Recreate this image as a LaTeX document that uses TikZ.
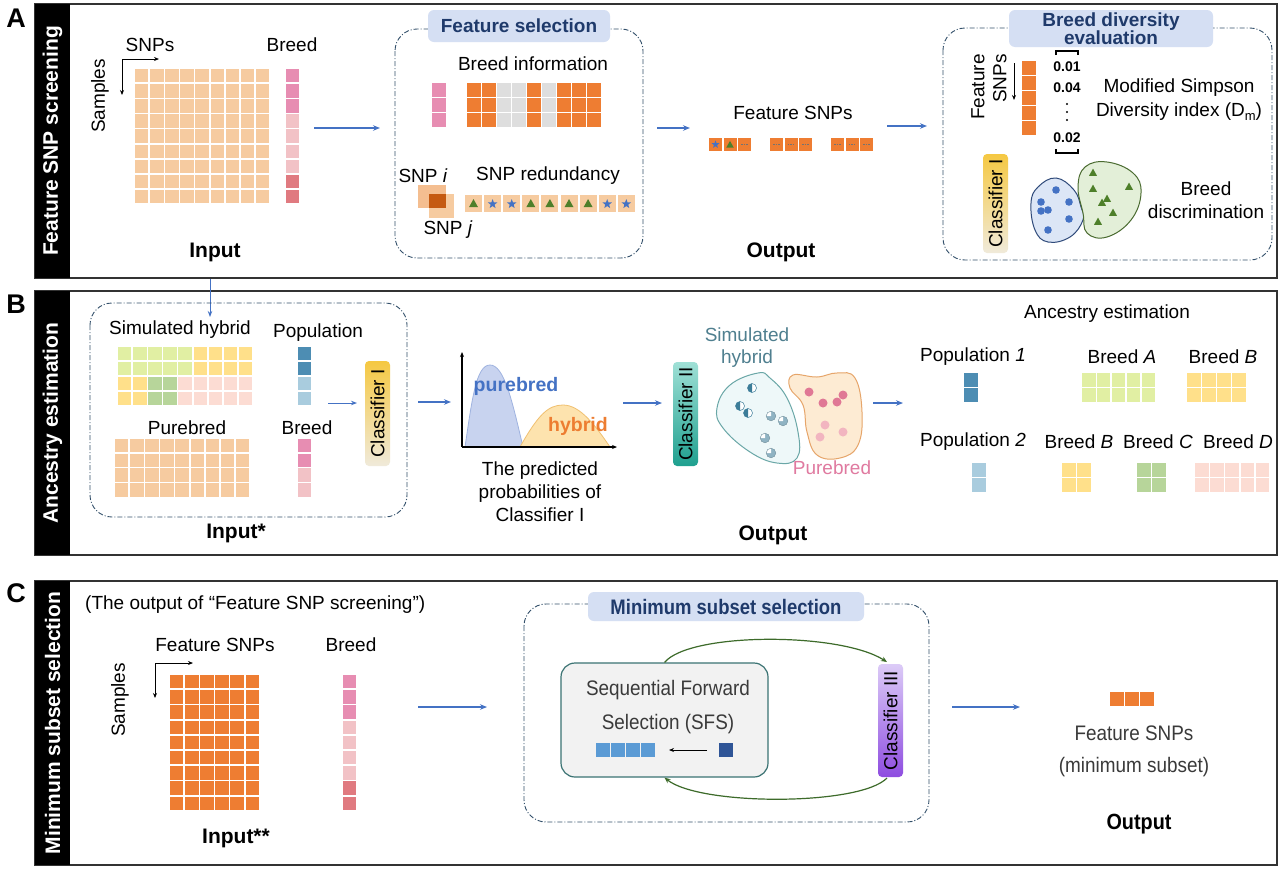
\documentclass[tikz,border=0pt]{standalone}
\usepackage{fontspec}
\setmainfont{Liberation Sans}
\usetikzlibrary{arrows.meta}

\definecolor{framecol}{HTML}{333333}
\definecolor{peach}{HTML}{F6CBA0}
\definecolor{snpipeach}{HTML}{F4BE90}
\definecolor{snpor}{HTML}{EE7D32}
\definecolor{pinkA}{HTML}{E78DB2}
\definecolor{pinkL}{HTML}{F2C2C6}
\definecolor{pinkD}{HTML}{E07A80}
\definecolor{greyc}{HTML}{DEDEDE}
\definecolor{limec}{HTML}{E1EFA3}
\definecolor{yelc}{HTML}{FFE08A}
\definecolor{grnc}{HTML}{B7D59A}
\definecolor{palepink}{HTML}{FCDCD3}
\definecolor{popD}{HTML}{4D8DB3}
\definecolor{popL}{HTML}{A9CCDE}
\definecolor{arrblue}{HTML}{4472C4}
\definecolor{titlefill}{HTML}{D5DFF3}
\definecolor{titletext}{HTML}{1F3A6B}
\definecolor{boxline}{HTML}{33506B}
\definecolor{trigreen}{HTML}{4E7F2A}
\definecolor{starblue}{HTML}{4472C4}
\definecolor{snpdark}{HTML}{C55A11}
\definecolor{bblobfill}{HTML}{DCE6F6}
\definecolor{bblobline}{HTML}{2F4A7A}
\definecolor{gblobfill}{HTML}{E3EFD8}
\definecolor{gblobline}{HTML}{4A6B30}
\definecolor{hblobfill}{HTML}{EEF8F9}
\definecolor{hblobline}{HTML}{6AA7A7}
\definecolor{hdark}{HTML}{3C7D99}
\definecolor{hlight}{HTML}{8FB3C3}
\definecolor{pblobfill}{HTML}{FDEBD3}
\definecolor{pblobline}{HTML}{E6A56A}
\definecolor{pdotD}{HTML}{E07895}
\definecolor{pdotL}{HTML}{F2B5C0}
\definecolor{curveB}{HTML}{C8D3EF}
\definecolor{curveBl}{HTML}{9FB3E0}
\definecolor{curveO}{HTML}{FDE3AE}
\definecolor{curveOl}{HTML}{F0C070}
\definecolor{txtblue}{HTML}{4472C4}
\definecolor{txtorange}{HTML}{ED7D31}
\definecolor{hybtxt}{HTML}{4F7F8F}
\definecolor{puretxt}{HTML}{E07AA0}
\definecolor{sfsfill}{HTML}{F2F2F2}
\definecolor{sfsline}{HTML}{3B7373}
\definecolor{sfsblue}{HTML}{5B9BD5}
\definecolor{sfsdark}{HTML}{2F5597}
\definecolor{greentip}{HTML}{3D6B2A}
\definecolor{clsAtop}{HTML}{F5C842}
\definecolor{clsAbot}{HTML}{F0EADA}
\definecolor{clsIItop}{HTML}{9FE0D6}
\definecolor{clsIIbot}{HTML}{1FA08F}
\definecolor{clsIIItop}{HTML}{DCCBF7}
\definecolor{clsIIIbot}{HTML}{8E4DE0}
\definecolor{greytxt}{HTML}{3A3A3A}

\newcommand{\onecell}[4]{\fill[#4] (#1,#2) rectangle ++(#3,#3);}
\newcommand{\cellblock}[8]{\foreach \ci in {1,...,#3}{\foreach \cj in {1,...,#4}{\fill[#8] ({#1+(\ci-1)*#5},{#2+(\cj-1)*#6}) rectangle ++(#7,#7);}}}
\newcommand{\mystar}[3]{\fill[starblue,shift={(#1,#2)},scale=#3] (0,-5.5)--(-1.35,-1.86)--(-5.23,-1.7)--(-2.19,0.71)--(-3.23,4.45)--(0,2.3)--(3.23,4.45)--(2.19,0.71)--(5.23,-1.7)--(1.35,-1.86)--cycle;}
\newcommand{\mytri}[4]{\fill[#4,shift={(#1,#2)},scale=#3] (0,-5.5)--(5,3.5)--(-5,3.5)--cycle;}
\newcommand{\dmark}[2]{\draw[line width=0.6pt,black!55,dash pattern=on 1.5pt off 1pt] ({#1-3.5},#2) -- ({#1+3.5},#2);}
\newcommand{\halfdot}[2]{\fill[white] (#1,#2) circle (4.5); \fill[hdark] (#1,#2) -- ++(90:4.5) arc (90:270:4.5) -- cycle; \draw[hdark,line width=0.5pt] (#1,#2) circle (4.5);}
\newcommand{\qdot}[2]{\fill[hlight] (#1,#2) circle (4.8); \fill[white] (#1,#2) -- ++(180:4.8) arc (180:270:4.8) -- cycle; \draw[hlight!80!black,line width=0.4pt] (#1,#2) circle (4.8);}

\begin{document}
\begin{tikzpicture}[x=1pt,y=-1pt,
 lbl/.style={font=\fontsize{19}{22}\selectfont, inner sep=0pt, align=center},
 nlbl/.style={font=\fontsize{21}{24}\selectfont, inner sep=0pt, align=center, xscale=0.9},
 blbl/.style={font=\fontsize{21}{24}\selectfont\bfseries, inner sep=0pt},
 barlbl/.style={font=\fontsize{21}{24}\selectfont\bfseries, text=white, rotate=90, inner sep=0pt},
 letter/.style={font=\fontsize{27}{27}\selectfont\bfseries, inner sep=0pt},
 panelframe/.style={draw=framecol, line width=1.8pt},
 arr/.style={draw=arrblue, line width=1.5pt, -{Stealth[length=7pt,width=5.5pt]}},
 thinarr/.style={draw=arrblue, line width=1pt, -{Stealth[length=6pt,width=4.5pt]}},
 axarr/.style={draw=black, line width=1pt, -{Stealth[length=5pt,width=4pt]}},
 ddbox/.style={draw=boxline, line width=0.9pt, rounded corners=22pt, dash pattern=on 5pt off 2pt on 1pt off 2pt},
 ttl/.style={fill=titlefill, rounded corners=6pt, text=titletext, font=\fontsize{19}{18}\selectfont\bfseries, inner sep=0pt, align=center},
 val/.style={font=\fontsize{14}{16}\selectfont\bfseries, inner sep=0pt},
 greenloop/.style={draw=greentip, line width=1.2pt, -{Stealth[length=6pt,width=5pt]}},
]
\useasboundingbox (0,0) rectangle (1280,868);
\fill[white] (0,0) rectangle (1280,868);

% ================= Panel A =================
\draw[panelframe] (35,4) rectangle (1277,278);
\fill[black] (35,4) rectangle (70,278);
\node[barlbl] (barA) at (52.5,141) {Feature SNP screening};
\node[letter] (letA) at (16,18) {A};

\node[lbl] (snpsA) at (150,45) {SNPs};
\node[lbl] (breedA) at (292,45) {Breed};
\node[lbl,rotate=90] (sampA) at (100,96) {Samples};
\coordinate (axA) at (122,59);
\draw[axarr] (axA) -- ++(37,0);
\draw[axarr] (axA) -- ++(0,36);
\cellblock{135}{69}{9}{9}{15.1}{15.1}{13.4}{peach}
\foreach \r/\cc in {0/pinkA,1/pinkA,2/pinkA,3/pinkL,4/pinkL,5/pinkL,6/pinkL,7/pinkD,8/pinkD}{\onecell{286}{69+\r*15.1}{13.4}{\cc}}
\node[blbl] (inA) at (215,252) {Input};
\coordinate (a1s) at (314,128); \coordinate (a1e) at (380,128);
\draw[arr] (a1s) -- (a1e);

% Feature selection
\draw[ddbox] (395,29) rectangle (643,258);
\node[ttl, minimum width=182pt, minimum height=32pt] (fselT) at (519,26) {Feature selection};
\node[lbl] (binfo) at (533,64) {Breed information};
\foreach \r in {0,1,2}{\onecell{432}{83+\r*15}{13.5}{pinkA}}
\foreach \ci/\cc in {0/snpor,1/snpor,2/greyc,3/greyc,4/snpor,5/greyc,6/snpor,7/snpor,8/snpor}{\foreach \r in {0,1,2}{\onecell{467+\ci*15}{83+\r*15}{13.5}{\cc}}}
\node[lbl] (snpi) at (423,176) {SNP \textit{i}};
\node[lbl] (snpr) at (548,176) {SNP redundancy};
\fill[snpipeach] (418,185) rectangle (446,208);
\fill[peach] (429,194) rectangle (454,218);
\fill[snpdark] (429,194) rectangle (446,208);
\node[lbl] (snpj) at (448,230) {SNP \textit{j}};
\foreach \k in {0,...,8}{\fill[peach] (465+\k*19.1,195) rectangle ++(17,17);}
\foreach \k in {0,3,4,5,6}{\mytri{473.5+\k*19.1}{204}{0.9}{trigreen}}
\foreach \k in {1,2,7,8}{\mystar{473.5+\k*19.1}{204}{0.9}}
\coordinate (a2s) at (657,128); \coordinate (a2e) at (690,128);
\draw[arr] (a2s) -- (a2e);

% Feature SNPs output
\node[lbl] (fsnpA) at (793,113) {Feature SNPs};
\foreach \g in {709,770,831}{\foreach \k in {0,1,2}{\onecell{\g+\k*14.5}{138}{13}{snpor}}}
\mystar{715.5}{144.5}{0.75}
\mytri{730}{145}{0.75}{trigreen}
\dmark{744.5}{144.5}
\foreach \g in {770,831}{\foreach \k in {0,1,2}{\dmark{\g+6.5+\k*14.5}{144.5}}}
\node[blbl] (outA) at (781,252) {Output};
\coordinate (a3s) at (887,126); \coordinate (a3e) at (927,126);
\draw[arr] (a3s) -- (a3e);

% Breed diversity evaluation
\draw[ddbox] (943,28) rectangle (1272,260);
\node[ttl, minimum width=204pt, minimum height=37pt] (bdT) at (1111,28.5) {Breed diversity\\evaluation};
\node[lbl, rotate=90, align=right] (fsv) at (989,87) {Feature\\SNPs};
\coordinate (fva) at (1014,63);
\draw[axarr] (fva) -- ++(0,37);
\foreach \r in {0,...,4}{\onecell{1022}{61+\r*15}{13.5}{snpor}}
\draw[line width=1.5pt] (1056,55) -- (1056,51) -- (1078,51) -- (1078,55);
\draw[line width=1.5pt] (1056,149) -- (1056,153) -- (1078,153) -- (1078,149);
\node[val] (v1) at (1067,67) {0.01};
\node[val] (v2) at (1067,88) {0.04};
\node[val] (v3) at (1067,138) {0.02};
\foreach \yy in {104,112,120}{\fill (1067,\yy) circle (1.1);}
\node[lbl, font=\fontsize{19}{24}\selectfont] (msdi) at (1179,100) {Modified Simpson\\Diversity index (D\raisebox{-0.35ex}{\fontsize{13}{13}\selectfont m})};
\shade[top color=clsAtop, bottom color=clsAbot, rounded corners=4pt] (983,154) rectangle (1008,253);
\node[lbl,rotate=90] (clsA) at (995.5,203.5) {Classifier I};
\draw[fill=bblobfill, draw=bblobline, line width=1pt] plot[smooth cycle, tension=0.7] coordinates {(1056,178) (1074,190) (1081,207) (1083,220) (1070,237) (1048,242) (1035,230) (1031,203) (1038,187)};
\draw[fill=gblobfill, draw=gblobline, line width=1pt] plot[smooth cycle, tension=0.7] coordinates {(1078,187) (1085,167) (1107,162) (1133,173) (1141,193) (1131,220) (1107,237) (1087,233) (1083,213)};
\foreach \p in {(1056,190),(1041,202),(1069,202),(1041,211),(1048,210),(1069,219),(1048,230)}{\fill[starblue] \p circle (3.8);}
\foreach \xx/\yy in {1093/173,1093/189,1129/187,1107/199,1102/203,1113/213,1098/222}{\mytri{\xx}{\yy}{0.8}{trigreen}}
\node[lbl, font=\fontsize{19}{23}\selectfont] (bdisc) at (1206,200) {Breed\\discrimination};

% ================= Panel B =================
\draw[panelframe] (35,291) rectangle (1277,555);
\fill[black] (35,291) rectangle (70,555);
\node[barlbl] (barB) at (52.5,423) {Ancestry estimation};
\node[letter] (letB) at (16,304) {B};
\coordinate (dA) at (210,279); \coordinate (dB) at (210,317);
\draw[thinarr] (dA) -- (dB);

\draw[ddbox] (90,303) rectangle (407,517);
\node[lbl] (simh) at (180,330) {Simulated hybrid};
\node[lbl] (popl) at (318,333) {Population};
\foreach \ci/\cc in {0/limec,1/limec,2/limec,3/limec,4/limec,5/yelc,6/yelc,7/yelc,8/yelc}{\foreach \r in {0,1}{\onecell{118+\ci*15.1}{347+\r*15}{13.4}{\cc}}}
\foreach \ci/\cc in {0/yelc,1/yelc,2/grnc,3/grnc,4/palepink,5/palepink,6/palepink,7/palepink,8/palepink}{\foreach \r in {2,3}{\onecell{118+\ci*15.1}{347+\r*15}{13.4}{\cc}}}
\foreach \r/\cc in {0/popD,1/popD,2/popL,3/popL}{\onecell{298}{347+\r*15}{13.4}{\cc}}
\node[lbl] (pureb) at (187,428) {Purebred};
\node[lbl] (breedB) at (307,428) {Breed};
\cellblock{115}{439}{9}{4}{15.1}{14.7}{13.4}{peach}
\foreach \r/\cc in {0/pinkA,1/pinkA,2/pinkL,3/pinkL}{\onecell{298}{439+\r*14.7}{13.4}{\cc}}
\coordinate (b1s) at (328,403); \coordinate (b1e) at (357,403);
\draw[thinarr] (b1s) -- (b1e);
\shade[top color=clsAtop, bottom color=clsAbot, rounded corners=4pt] (365,361) rectangle (390,466);
\node[lbl,rotate=90] (clsB) at (377.5,413.5) {Classifier I};
\node[blbl] (inB) at (236,533) {Input*};
\coordinate (b2s) at (418,402); \coordinate (b2e) at (451,402);
\draw[arr] (b2s) -- (b2e);

% chart
\coordinate (org) at (462,447);
\coordinate (yax) at (462,352);
\coordinate (xax) at (617,447);
\draw[fill=curveB, draw=curveBl, line width=0.8pt] (465,447) .. controls (472,400) and (476,365) .. (490,365) .. controls (504,365) and (512,400) .. (523,447) -- cycle;
\draw[fill=curveO, draw=curveOl, line width=0.8pt] (520,447) .. controls (538,415) and (548,405) .. (563,405) .. controls (580,405) and (595,425) .. (610,447) -- cycle;
\draw[axarr, line width=1.5pt] (org) -- (yax);
\draw[axarr, line width=1.5pt] (org) -- (xax);
\node[font=\fontsize{19.5}{22}\selectfont\bfseries, text=txtblue, inner sep=0pt] (pbl) at (516,386) {purebred};
\node[font=\fontsize{19.5}{22}\selectfont\bfseries, text=txtorange, inner sep=0pt] (hbl) at (578,426) {hybrid};
\node[lbl, font=\fontsize{19}{23}\selectfont] (pred) at (540,492) {The predicted\\probabilities of\\Classifier I};
\coordinate (b3s) at (623,403); \coordinate (b3e) at (662,403);
\draw[arr] (b3s) -- (b3e);
\shade[top color=clsIItop, bottom color=clsIIbot, rounded corners=4pt] (673,362) rectangle (698,466);
\node[lbl,rotate=90] (clsII) at (685.5,414) {Classifier II};

\draw[fill=hblobfill, draw=hblobline, line width=1pt] plot[smooth cycle, tension=0.7] coordinates {(758,373) (730,385) (717,408) (723,428) (750,452) (777,463) (797,458) (798,432) (787,398) (770,378)};
\draw[fill=pblobfill, draw=pblobline, line width=1pt] plot[smooth cycle, tension=0.7] coordinates {(793,375) (817,377) (837,373) (855,378) (862,412) (858,445) (840,458) (817,455) (807,432) (803,405) (790,388)};
\halfdot{752}{388}
\halfdot{740}{406}
\halfdot{748}{413}
\qdot{771}{416}
\qdot{783}{421}
\qdot{765}{438}
\qdot{771}{453}
\foreach \p in {(809,392),(823,403),(837,402),(843,395)}{\fill[pdotD] \p circle (4.5);}
\foreach \p in {(825,425),(820,437),(843,432)}{\fill[pdotL] \p circle (4.5);}
\node[lbl, text=hybtxt] (simhl) at (747,348) {Simulated\\hybrid};
\node[lbl, text=puretxt] (purel) at (832,468) {Purebred};
\node[blbl] (outB) at (773,535) {Output};
\coordinate (b4s) at (873,403); \coordinate (b4e) at (903,403);
\draw[arr] (b4s) -- (b4e);

% ancestry estimation
\node[lbl] (anc) at (1107,314) {Ancestry estimation};
\node[lbl] (pop1) at (973,357) {Population \textit{1}};
\node[lbl] (brA) at (1122,357) {Breed \textit{A}};
\node[lbl] (brB1) at (1223,357) {Breed \textit{B}};
\node[lbl] (pop2) at (973,442) {Population \textit{2}};
\node[lbl] (brB2) at (1079,442) {Breed \textit{B}};
\node[lbl] (brC) at (1158,442) {Breed \textit{C}};
\node[lbl] (brD) at (1238,442) {Breed \textit{D}};
\cellblock{964}{373}{1}{2}{15}{15}{13.5}{popD}
\cellblock{1082}{373}{5}{2}{14.9}{15}{13.5}{limec}
\cellblock{1187}{373}{4}{2}{15}{15}{13.5}{yelc}
\cellblock{972}{463}{1}{2}{15}{15}{13.5}{popL}
\cellblock{1062}{463}{2}{2}{15}{15}{13.5}{yelc}
\cellblock{1137}{463}{2}{2}{15}{15}{13.5}{grnc}
\cellblock{1195}{463}{5}{2}{15.2}{15}{13.5}{palepink}

% ================= Panel C =================
\draw[panelframe] (35,581) rectangle (1277,865);
\fill[black] (35,581) rectangle (70,865);
\node[barlbl] (barC) at (52.5,723) {Minimum subset selection};
\node[letter] (letC) at (16,593) {C};
\node[lbl, anchor=west] (outofA) at (85,605) {(The output of “Feature SNP screening”)};
\node[lbl] (fsC) at (215,645) {Feature SNPs};
\node[lbl] (brCC) at (351,645) {Breed};
\node[lbl, rotate=90] (sampC) at (120,700) {Samples};
\coordinate (axC) at (155,663);
\draw[axarr] (axC) -- ++(38,0);
\draw[axarr] (axC) -- ++(0,35);
\cellblock{170}{675}{6}{9}{15.1}{15.2}{13.4}{snpor}
\foreach \r/\cc in {0/pinkA,1/pinkA,2/pinkA,3/pinkL,4/pinkL,5/pinkL,6/pinkL,7/pinkD,8/pinkD}{\onecell{343}{675+\r*15.2}{13.4}{\cc}}
\node[blbl] (inC) at (236,838) {Input**};
\coordinate (c1s) at (418,707); \coordinate (c1e) at (487,707);
\draw[arr] (c1s) -- (c1e);

\draw[ddbox] (524,604) rectangle (929,822);
\node[ttl, minimum width=276pt, minimum height=29pt, font=\fontsize{21}{22}\selectfont\bfseries] (mssT) at (726,606.5) {\scalebox{0.88}[1]{Minimum subset selection}};
\node[draw=sfsline, fill=sfsfill, line width=1.2pt, rounded corners=14pt, minimum width=207pt, minimum height=114pt, inner sep=0pt] (sfs) at (664.5,720) {};
\node[nlbl, text=greytxt] (sfs1) at (668,690) {Sequential Forward};
\node[nlbl, text=greytxt] (sfs2) at (668,724) {Selection (SFS)};
\cellblock{596}{743}{4}{1}{15}{15}{13.5}{sfsblue}
\onecell{719}{743}{13.5}{sfsdark}
\coordinate (sa1) at (707,750); \coordinate (sa2) at (669,750);
\draw[axarr] (sa1) -- (sa2);
\shade[top color=clsIIItop, bottom color=clsIIIbot, rounded corners=4pt] (878,664) rectangle (903,777);
\node[lbl,rotate=90] (clsIII) at (890.5,720.5) {Classifier III};
\coordinate (c3t) at (887,662);
\coordinate (c3b) at (887,778);
\draw[greenloop] (sfs.north) .. controls (690,632) and (840,632) .. (c3t);
\draw[greenloop] (c3b) .. controls (860,806) and (700,806) .. (sfs.south);
\coordinate (c2s) at (952,707); \coordinate (c2e) at (1020,707);
\draw[arr] (c2s) -- (c2e);
\foreach \k in {0,1,2}{\onecell{1110+\k*15}{692}{14}{snpor}}
\node[nlbl, text=greytxt] (fsO) at (1134,733) {Feature SNPs};
\node[nlbl, text=greytxt] (mins) at (1134,767) {(minimum subset)};
\node[blbl, font=\fontsize{22}{24}\selectfont\bfseries] (outC) at (1139,824) {\scalebox{0.9}[1]{Output}};
\end{tikzpicture}
\end{document}
